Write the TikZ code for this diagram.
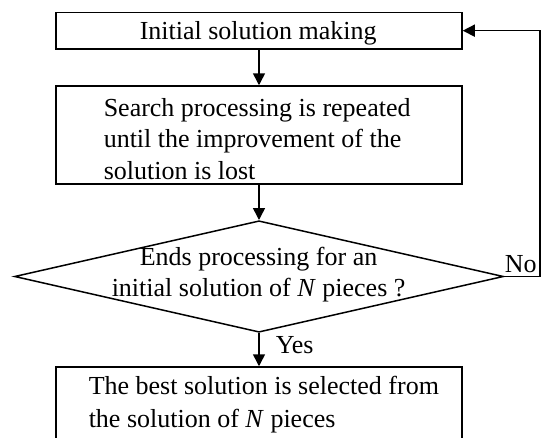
\documentclass[tikz,border=0pt]{standalone}
\usepackage{fontspec}
\setmainfont{Liberation Serif}
\usetikzlibrary{arrows.meta,shapes.geometric}
\begin{document}
\begin{tikzpicture}[x=1pt,y=-1pt,line width=1.5pt,
  box/.style={draw,rectangle,inner sep=0pt,minimum width=406pt},
  txt/.style={anchor=base west,inner sep=0pt,font=\fontsize{26}{32}\selectfont},
  arr/.style={-{Triangle[length=12pt,width=12pt]}}]
\useasboundingbox (0,0) rectangle (544,437);
\clip (0,0) rectangle (544,437);
% boxes
\node[box,minimum height=36.7pt] (b1) at (259,30.65) {};
\node[box,minimum height=98pt] (b2) at (259,135) {};
\node[draw,diamond,inner sep=0pt,minimum width=489pt,minimum height=111.5pt] (d) at (259,276.5) {};
\node[box,minimum height=93pt] (b3) at (259,413.5) {};
% texts
\node[txt] (t1) at (139,39) {Initial solution making};
\node[txt] (t2a) at (103,116.5) {Search processing is repeated};
\node[txt] (t2b) at (103,147.5) {until the improvement of the};
\node[txt] (t2c) at (103,179.5) {solution is lost};
\node[txt] (t3a) at (139,265.5) {Ends processing for an};
\node[txt] (t3b) at (111,296) {initial solution of \textit{N} pieces ?};
\node[txt] (t4a) at (88,394) {The best solution is selected from};
\node[txt] (t4b) at (88,427) {the solution of \textit{N} pieces};
\node[txt] (no) at (504,272) {No};
\node[txt] (yes) at (275,353) {Yes};
% connectors
\coordinate (fb) at (540,276.5);
\draw[arr] (b1.south) -- (b2.north);
\draw[arr] (b2.south) -- (d.north);
\draw[arr] (d.south) -- (b3.north);
\draw[arr] (d.east) -- (fb) |- (b1.east);
\end{tikzpicture}
\end{document}
